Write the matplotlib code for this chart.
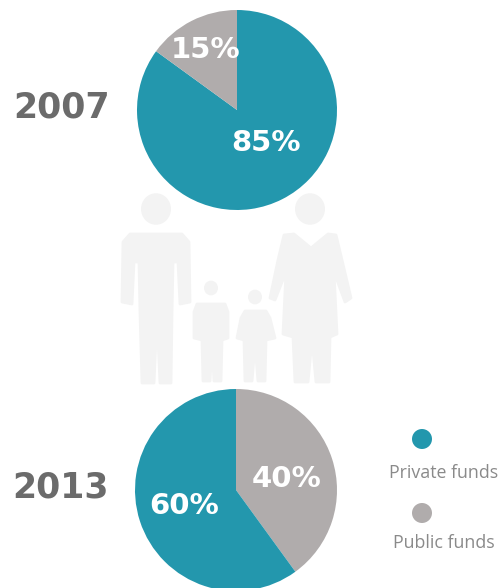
import matplotlib.pyplot as plt
from matplotlib.patches import Circle, Ellipse

# Data
years = ['2007', '2013']
private_funds = [85, 60]
public_funds = [15, 40]
legend_labels = ['Private funds', 'Public funds']

TEAL = '#2397ad'
GREY = '#b0acac'
FAMILY = '#f3f3f3'
H = 588

fig = plt.figure(figsize=(5.02, 5.88), dpi=100)
ax = fig.add_axes([0, 0, 1, 1])


def shape(points):
    # outline given top-down, flip y so it lines up with the rest
    xs = [p[0] for p in points]
    ys = [H - p[1] for p in points]
    ax.fill(xs, ys, color=FAMILY, lw=2, joinstyle='round', zorder=1)


def head(x, y, r):
    ax.add_patch(Ellipse((x, H - y), r * 2, r * 2.1, color=FAMILY, lw=0, zorder=1))


# Family in the background
head(156, 209, 15)
shape([(130, 234), (182, 234), (189, 242), (190, 302), (180, 304), (178, 262),
       (173, 262), (172, 312), (171, 383), (160, 383), (157, 318), (154, 383),
       (142, 383), (140, 312), (139, 262), (134, 262), (132, 304), (122, 302),
       (123, 242)])

head(211, 288, 7)
shape([(197, 304), (225, 304), (228, 312), (228, 338), (222, 340), (221, 381),
       (214, 381), (212, 345), (210, 381), (203, 381), (202, 340), (194, 338),
       (194, 312)])

head(255, 297, 7)
shape([(245, 311), (266, 311), (270, 318), (275, 338), (266, 340), (265, 381),
       (258, 381), (255, 345), (252, 381), (245, 381), (244, 340), (237, 338),
       (241, 318)])

head(310, 209, 15)
shape([(284, 235), (294, 234), (311, 248), (328, 234), (336, 235), (342, 260),
       (351, 298), (345, 302), (334, 272), (337, 334), (330, 337), (329, 382),
       (316, 382), (312, 340), (308, 382), (295, 382), (293, 337), (283, 334),
       (286, 272), (275, 300), (270, 298), (278, 260)])

# Pies
centers = [(237, H - 110), (236, H - 490)]
radii = [100, 101]
ax.pie([private_funds[0], public_funds[0]], colors=[TEAL, GREY], startangle=90,
       counterclock=False, center=centers[0], radius=radii[0],
       wedgeprops={'linewidth': 0, 'zorder': 2})
ax.pie([public_funds[1], private_funds[1]], colors=[GREY, TEAL], startangle=90,
       counterclock=False, center=centers[1], radius=radii[1],
       wedgeprops={'linewidth': 0, 'zorder': 2})

ax.set_xlim(0, 502)
ax.set_ylim(0, H)
ax.set_aspect('auto')
ax.axis('off')

# Percent labels
pct_style = dict(color='white', fontsize=21, fontweight='bold', ha='center',
                 va='center', family='DejaVu Sans', zorder=3)
ax.text(206, H - 50, f'{public_funds[0]}%', **pct_style)
ax.text(266, H - 143, f'{private_funds[0]}%', **pct_style)
ax.text(287, H - 479, f'{public_funds[1]}%', **pct_style)
ax.text(184, H - 506, f'{private_funds[1]}%', **pct_style)

# Year labels
ax.text(62, H - 108, years[0], color='#6b6b6b', fontsize=25, fontweight='bold',
        ha='center', va='center', family='DejaVu Sans')
ax.text(61, H - 487, years[1], color='#6b6b6b', fontsize=25, fontweight='bold',
        ha='center', va='center', family='DejaVu Sans')

# Legend
ax.add_patch(Circle((422, H - 439), 10, color=TEAL, lw=0))
ax.add_patch(Circle((422, H - 513), 10, color=GREY, lw=0))
ax.text(444, H - 473, legend_labels[0], color='#8a8a8a', fontsize=12.8, ha='center',
        va='center', family='Open Sans')
ax.text(444, H - 543, legend_labels[1], color='#8a8a8a', fontsize=12.8, ha='center',
        va='center', family='Open Sans')

plt.savefig('out.png', dpi=100)
